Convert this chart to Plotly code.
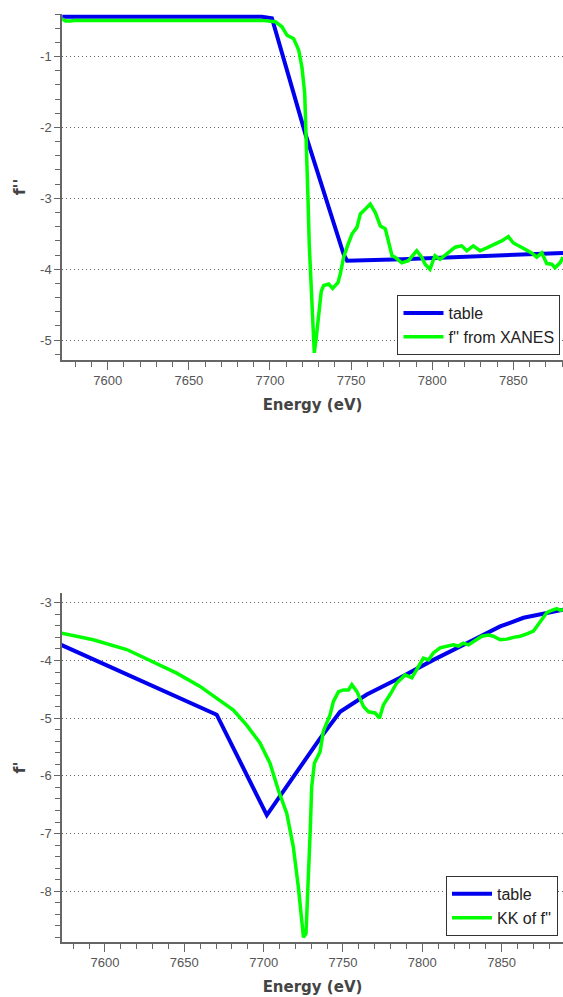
import numpy as np
import plotly.graph_objects as go
from plotly.subplots import make_subplots

# ---- data: top panel f'' ----
top_table_E = [7572, 7690, 7695, 7701.2, 7721.8, 7745.4, 7747.5, 7781.4, 7880.6]
top_table_v = [-0.44, -0.44, -0.44, -0.46, -2.09, -3.79, -3.88, -3.86, -3.77]

top_xanes_E = [7572, 7574, 7577, 7580, 7600, 7650, 7695.1, 7703.3, 7707.4, 7710.5, 7714.6, 7717.7,
               7719.7, 7721.4, 7722.2, 7722.8, 7723.4, 7724.2, 7725.5, 7726.3, 7727.3, 7728.5,
               7730.0, 7731.6, 7733.1, 7736.2, 7738.6, 7741.9, 7743.3, 7745.4, 7748.1, 7750.6,
               7753.6, 7755.7, 7758.8, 7761.8, 7764.9, 7768.0, 7771.1, 7773.2, 7775.2, 7777.1,
               7781.2, 7785.3, 7790.4, 7793.5, 7795.6, 7798.6, 7801.7, 7804.8, 7809.9, 7814.1,
               7818.2, 7821.3, 7825.3, 7829.5, 7833.6, 7838.7, 7842.8, 7846.9, 7850.0, 7854.1,
               7858.3, 7861.3, 7864.4, 7867.5, 7870.6, 7873.7, 7875.7, 7878.8, 7880.6]
top_xanes_v = [-0.47, -0.50, -0.50, -0.49, -0.49, -0.49, -0.49, -0.51, -0.58, -0.70, -0.75, -0.91,
               -1.15, -1.52, -2.00, -2.47, -2.99, -3.65, -4.35, -4.82, -5.18, -4.97,
               -4.59, -4.31, -4.23, -4.21, -4.27, -4.19, -4.07, -3.83, -3.65, -3.50,
               -3.41, -3.22, -3.15, -3.08, -3.20, -3.39, -3.43, -3.65, -3.81, -3.83,
               -3.91, -3.88, -3.74, -3.83, -3.93, -4.00, -3.81, -3.86, -3.76, -3.69,
               -3.67, -3.74, -3.67, -3.74, -3.70, -3.65, -3.60, -3.54, -3.63, -3.68,
               -3.74, -3.77, -3.83, -3.77, -3.92, -3.93, -3.98, -3.91, -3.83]

# ---- data: bottom panel f' ----
bot_table_E = [7571.6, 7670.4, 7702.0, 7735.6, 7748.2, 7765.0, 7786.0, 7807.0, 7828.0, 7849.1,
               7863.8, 7878.5, 7888.8]
bot_table_v = [-3.72, -4.94, -6.68, -5.35, -4.89, -4.59, -4.30, -3.99, -3.70, -3.41,
               -3.26, -3.17, -3.12]

bot_kk_E = [7571.6, 7592.6, 7613.7, 7630.5, 7645.2, 7659.9, 7670.4, 7680.9, 7689.3, 7697.7,
            7704.0, 7709.3, 7714.6, 7718.7, 7721.9, 7724.0, 7725.1, 7726.7, 7728.2, 7729.3,
            7730.3, 7732.0, 7735.6, 7737.6, 7741.9, 7744.0, 7747.2, 7750.3, 7753.5, 7755.6,
            7758.8, 7763.0, 7766.1, 7770.2, 7773.0, 7775.5, 7779.7, 7783.9, 7789.2, 7793.4,
            7796.5, 7800.7, 7803.9, 7807.0, 7811.2, 7815.5, 7819.6, 7822.8, 7825.9, 7829.1,
            7832.2, 7837.5, 7841.7, 7844.8, 7849.1, 7853.3, 7857.4, 7861.7, 7865.9, 7870.1,
            7872.2, 7875.3, 7878.5, 7881.6, 7884.8, 7886.9, 7888.8]
bot_kk_v = [-3.52, -3.64, -3.81, -4.02, -4.22, -4.45, -4.65, -4.86, -5.12, -5.43,
            -5.78, -6.25, -6.65, -7.23, -7.93, -8.45, -8.80, -8.73, -7.87, -7.00,
            -6.19, -5.78, -5.58, -5.23, -4.94, -4.71, -4.54, -4.51, -4.51, -4.42,
            -4.54, -4.80, -4.89, -4.91, -5.00, -4.77, -4.59, -4.39, -4.25, -4.30,
            -4.16, -3.96, -3.99, -3.87, -3.78, -3.75, -3.73, -3.75, -3.70, -3.73,
            -3.67, -3.58, -3.56, -3.58, -3.64, -3.63, -3.60, -3.58, -3.54, -3.49,
            -3.41, -3.29, -3.17, -3.13, -3.10, -3.13, -3.12]

top_yticks = [-5, -4, -3, -2, -1]
bot_yticks = [-8, -7, -6, -5, -4, -3]

BLUE = "#0000ee"
GREEN = "#00ff00"

fig = make_subplots(rows=2, cols=1)

fig.add_trace(go.Scatter(x=top_table_E, y=top_table_v, mode="lines", name="table",
                         line=dict(color=BLUE, width=4), legend="legend"), row=1, col=1)
fig.add_trace(go.Scatter(x=top_xanes_E, y=top_xanes_v, mode="lines", name="f'' from XANES",
                         line=dict(color=GREEN, width=3.5), legend="legend"), row=1, col=1)
fig.add_trace(go.Scatter(x=bot_table_E, y=bot_table_v, mode="lines", name="table",
                         line=dict(color=BLUE, width=4), legend="legend2"), row=2, col=1)
fig.add_trace(go.Scatter(x=bot_kk_E, y=bot_kk_v, mode="lines", name="KK of f''",
                         line=dict(color=GREEN, width=3.5), legend="legend2"), row=2, col=1)

tickfont = dict(family="Liberation Sans, Arial, sans-serif", size=13, color="#555555")
titlefont = dict(family="DejaVu Sans, sans-serif", size=15, color="#444444", weight="bold")
ytitlefont = dict(family="DejaVu Sans, sans-serif", size=16, color="#444444", weight="bold")

xcommon = dict(showline=True, linecolor="#666666", linewidth=1.5, showgrid=False, zeroline=False,
               ticks="outside", ticklen=8, tickcolor="#666666", dtick=50, tick0=0,
               tickfont=tickfont, title=dict(text="Energy (eV)", font=titlefont, standoff=12),
               minor=dict(dtick=10, tick0=0, ticks="outside", ticklen=5, tickcolor="#666666", showgrid=False))
ycommon = dict(showline=True, linecolor="#666666", linewidth=1.5, showgrid=True, gridcolor="#666666",
               griddash="1px,3px", gridwidth=1, zeroline=False, ticks="outside", ticklen=6,
               tickcolor="#666666", tickfont=tickfont)

fig.update_xaxes(**xcommon)
fig.update_yaxes(**ycommon)


def minor_vals(lo, hi):
    return [round(v, 2) for v in np.arange(lo, hi + 1e-9, 0.2)]


legfont = dict(family="Liberation Sans, Arial, sans-serif", size=16, color="#222222")

fig.update_layout(
    width=563, height=997,
    margin=dict(l=62, r=0, t=14, b=55),
    paper_bgcolor="white", plot_bgcolor="white",
    xaxis=dict(domain=[0, 1], range=[7571.8, 7880.6], anchor="y"),
    yaxis=dict(domain=[0.6272, 1.0], range=[-5.28, -0.40], anchor="x",
               tickmode="array", tickvals=top_yticks, ticktext=[str(t) for t in top_yticks],
               minor=dict(tickmode="array", tickvals=minor_vals(-5.2, -0.4), ticks="outside",
                          ticklen=5, tickcolor="#666666", showgrid=False),
               title=dict(text="f''", font=ytitlefont, standoff=10)),
    xaxis2=dict(domain=[0, 1], range=[7572.9, 7888.7], anchor="y2"),
    yaxis2=dict(domain=[0.0, 0.3761], range=[-8.88, -2.83], anchor="x2",
                tickmode="array", tickvals=bot_yticks, ticktext=[str(t) for t in bot_yticks],
                minor=dict(tickmode="array", tickvals=minor_vals(-8.8, -3.0), ticks="outside",
                           ticklen=5, tickcolor="#666666", showgrid=False),
                title=dict(text="f'", font=ytitlefont, standoff=10)),
    legend=dict(x=0.995, y=0.6325, xanchor="right", yanchor="bottom",
                bordercolor="#333333", borderwidth=1, bgcolor="white",
                font=legfont, tracegroupgap=0, itemwidth=40),
    legend2=dict(x=0.99, y=0.0065, xanchor="right", yanchor="bottom",
                 bordercolor="#333333", borderwidth=1, bgcolor="white",
                 font=legfont, tracegroupgap=0, itemwidth=40),
    showlegend=True,
)

fig.write_html("out.html")
